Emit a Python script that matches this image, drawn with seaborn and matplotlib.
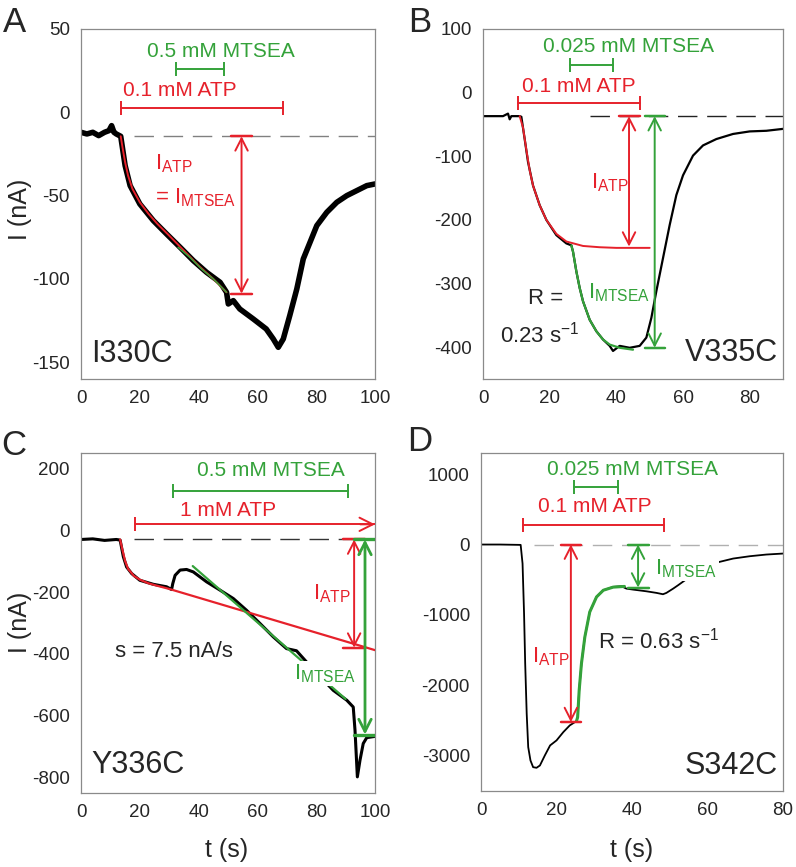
import numpy as np
import pandas as pd
import matplotlib
matplotlib.use("Agg")
import matplotlib.pyplot as plt
import seaborn as sns

sns.set_style("white")
plt.rcParams['font.family'] = ['Liberation Sans', 'DejaVu Sans']
plt.rcParams['mathtext.fontset'] = 'custom'
plt.rcParams['mathtext.rm'] = 'Liberation Sans'
plt.rcParams['mathtext.it'] = 'Liberation Sans'
plt.rcParams['axes.unicode_minus'] = False

RED = "#e6212b"
GREEN = "#34a23a"

# ---- panel A : I330C ----
a_t = [0, 2, 4, 6, 8, 9.5, 10.4, 11.2, 12, 13.5, 15, 16.7, 20, 24.6, 29.1, 33.7, 38.2, 42.7, 45, 47.3,
       49.5, 50.1, 51.8, 54, 58.6, 63, 65.4, 67.1, 68.8, 71, 73.4, 75.6, 77.9, 80.2, 83.6, 87, 90.4, 93.8, 97.2, 100]
a_i = [-12, -13, -12, -14, -12, -11, -8, -12, -13, -14.4, -32, -44, -55, -65, -73, -81, -89, -96, -99, -102,
       -108, -115, -113, -118, -124, -130, -136, -141, -136, -122, -106, -88, -78, -68, -60, -54, -50, -47, -44, -43]
a_red_t = [13.5, 14.2, 15, 16, 17.5, 20, 23, 26, 30, 35, 40, 45, 49.5]
a_red_i = [-14.4, -22, -30, -38, -46, -54, -61, -67, -74, -83, -92, -100, -108]
a_green_t = [33, 37, 41, 45, 49.5]
a_green_i = [-81, -87, -94, -100, -108]

# ---- panel B : V335C ----
b_t = [0, 3, 6, 7.5, 8, 8.5, 11, 11.5, 12.5, 13.5, 15, 17, 19, 22, 25, 26.5, 27, 28, 29, 30, 32, 34, 36, 38,
       39, 41, 44, 47, 49, 50.5, 52, 54, 56, 58, 60, 63, 66, 70, 75, 80, 85, 90]
b_i = [-37, -37, -37, -33, -42, -37, -37, -38, -73, -109, -146, -177, -200, -224, -237, -240, -250, -281, -307,
       -328, -357, -375, -388, -398, -406, -398, -401, -398, -385, -354, -312, -260, -208, -161, -130, -99, -83,
       -73, -65, -61, -60, -57]
b_red_t = [11, 12, 13, 14, 15, 17, 19, 22, 25, 30, 35, 40, 50]
b_red_i = [-37, -55, -90, -122, -146, -177, -200, -222, -234, -241, -243, -244, -244]
b_green_t = [26.5, 27, 28, 29, 30, 32, 34, 36, 38, 41, 45]
b_green_i = [-240, -250, -281, -307, -328, -357, -375, -388, -396, -401, -404]

# ---- panel C : Y336C ----
c_t = [0, 4, 8, 12, 13.3, 14.4, 15.5, 17.2, 20, 24.6, 29.1, 30.8, 31.2, 32, 33.7, 35.9, 38.2, 42.7, 47.3,
       51.8, 56.3, 60.9, 65.4, 69.9, 73.3, 78, 82, 85.8, 90.4, 92.6, 93.2, 94, 94.9, 96, 97.2, 100]
c_i = [-30, -28, -33, -30, -32, -86, -119, -140, -162, -175, -183, -192, -173, -146, -129, -127, -135, -167,
       -194, -221, -259, -302, -345, -383, -390, -440, -480, -518, -550, -572, -647, -798, -744, -690, -671, -667]
c_red_t = [13.3, 14, 15, 16, 18, 20, 23, 26, 30, 100]
c_red_i = [-30, -60, -100, -125, -148, -160, -172, -180, -190, -388]
c_green_t = [38, 90]
c_green_i = [-116, -546]

# ---- panel D : S342C ----
d_t = [0, 5, 10.5, 11, 11.4, 11.7, 12.1, 12.5, 13.1, 13.8, 14.7, 15.6, 16.9, 18.3, 20, 21.8, 23.5, 25.3,
       25.6, 26, 26.6, 27.5, 28.8, 30.6, 32.4, 35, 37.2, 38.5, 40.3, 43.8, 46.5, 48.2, 49.1, 50.9, 52.2,
       55, 58, 61.5, 63.2, 66.8, 71.2, 75.6, 80]
d_i = [0, 0, -5, -270, -981, -1692, -2403, -2877, -3067, -3162, -3171, -3138, -2996, -2853, -2782, -2664,
       -2569, -2507, -2450, -2071, -1692, -1313, -958, -744, -649, -602, -592, -626, -640, -664, -687, -706,
       -687, -626, -578, -470, -370, -270, -246, -199, -166, -142, -128]
d_green_t = [25.3, 25.6, 26, 26.6, 27.5, 28.8, 30.6, 32.4, 35, 38]
d_green_i = [-2507, -2450, -2071, -1692, -1313, -958, -744, -649, -605, -595]


def trace(ax, t, i, color, lw, z=2):
    sns.lineplot(x=t, y=i, ax=ax, color=color, lw=lw, estimator=None, sort=False, zorder=z)


def bracket(ax, x0, x1, y, color, arrow=False):
    ax.plot([x0, x1], [y, y], color=color, lw=1.4, zorder=4)
    ax.plot([x0], [y], marker='|', ms=10, mew=1.4, color=color, zorder=4)
    if arrow:
        ax.annotate('', xy=(x1, y), xytext=(x1 - 5, y),
                    arrowprops=dict(arrowstyle='->,head_length=0.6,head_width=0.3', color=color, lw=1.4,
                                    shrinkA=0, shrinkB=0, mutation_scale=16), zorder=4)
    else:
        ax.plot([x1], [y], marker='|', ms=10, mew=1.4, color=color, zorder=4)


def span(ax, x, y0, y1, cap0, cap1, color, lw=1.4):
    ax.annotate('', xy=(x, y1), xytext=(x, y0),
                arrowprops=dict(arrowstyle='<->,head_length=0.55,head_width=0.28', color=color, lw=lw,
                                shrinkA=0, shrinkB=0, mutation_scale=16), zorder=4)
    if cap0:
        ax.plot(cap0, [y0, y0], color=color, lw=lw + 0.4, zorder=4)
    if cap1:
        ax.plot(cap1, [y1, y1], color=color, lw=lw + 0.4, zorder=4)


def baseline(ax, x0, x1, y, color):
    ax.plot([x0, x1], [y, y], color=color, lw=1.0, ls=(0, (14, 7)), zorder=1)


def style(ax, xlim, ylim, xt, yt):
    ax.set_xlim(*xlim)
    ax.set_ylim(*ylim)
    ax.set_xticks(xt)
    ax.set_yticks(yt)
    ax.set_xlabel('')
    ax.set_ylabel('')
    for s in ax.spines.values():
        s.set_color('#8a8a8a')
        s.set_linewidth(0.9)
    ax.tick_params(direction='out', length=4, width=0.9, color='#8a8a8a', labelsize=13.5, pad=4)


fig = plt.figure(figsize=(7.96, 8.67), dpi=100)
axA = fig.add_axes([0.1018, 0.5629, 0.3693, 0.4037])
axB = fig.add_axes([0.6068, 0.5629, 0.3769, 0.4037])
axC = fig.add_axes([0.1018, 0.0854, 0.3693, 0.3922])
axD = fig.add_axes([0.6043, 0.0877, 0.3794, 0.3898])

FS = 15

# A
trace(axA, a_t, a_i, 'black', 4)
trace(axA, a_red_t, a_red_i, RED, 1.4, 3)
trace(axA, a_green_t, a_green_i, GREEN, 1.1, 3)
baseline(axA, 18, 100, -14.4, '#808080')
bracket(axA, 13.5, 68.6, 2.6, RED)
bracket(axA, 32.3, 48.6, 26, GREEN)
axA.text(14.4, 13, '0.1 mM ATP', color=RED, fontsize=FS, va='center')
axA.text(22.3, 36.6, '0.5 mM MTSEA', color=GREEN, fontsize=FS, va='center')
span(axA, 54.6, -14.4, -108.8, [51, 58.3], [51, 58.3], RED)
axA.text(25.2, -31, r'I$_{\mathrm{ATP}}$', color=RED, fontsize=FS + 1, va='center')
axA.text(25.2, -51, r'= I$_{\mathrm{MTSEA}}$', color=RED, fontsize=FS + 1, va='center')
axA.text(3.6, -145, 'I330C', fontsize=22, va='center')
style(axA, (0, 100), (-160, 50), range(0, 101, 20), [-150, -100, -50, 0, 50])

# B
trace(axB, b_t, b_i, 'black', 1.6)
trace(axB, b_red_t, b_red_i, RED, 1.4, 3)
trace(axB, b_green_t, b_green_i, GREEN, 1.6, 3)
baseline(axB, 32, 90, -37, '#222222')
bracket(axB, 10.5, 47.2, -17, RED)
bracket(axB, 26, 39, 44, GREEN)
axB.text(11.8, 9, '0.1 mM ATP', color=RED, fontsize=FS, va='center')
axB.text(18, 73, '0.025 mM MTSEA', color=GREEN, fontsize=FS, va='center')
span(axB, 43.8, -37, -242, [40.8, 47.2], None, RED)
span(axB, 51.5, -37, -401, [48.5, 54.5], [48.5, 54.5], GREEN)
axB.text(32.3, -142, r'I$_{\mathrm{ATP}}$', color=RED, fontsize=FS + 1, va='center')
axB.text(31.6, -315, r'I$_{\mathrm{MTSEA}}$', color=GREEN, fontsize=FS + 1, va='center')
axB.text(13.5, -323, 'R =', fontsize=FS + 1, va='center')
axB.text(5, -380, r'0.23 s$^{-1}$', fontsize=FS + 1, va='center')
axB.text(88.5, -409, 'V335C', fontsize=22, va='center', ha='right')
style(axB, (0, 90), (-450, 100), range(0, 81, 20), [-400, -300, -200, -100, 0, 100])

# C
trace(axC, c_t, c_i, 'black', 2.2)
trace(axC, c_red_t, c_red_i, RED, 1.6, 3)
trace(axC, c_green_t, c_green_i, GREEN, 1.6, 3)
baseline(axC, 18, 100, -30, '#333333')
bracket(axC, 18.4, 100, 19, RED, arrow=True)
bracket(axC, 31.2, 90.9, 127, GREEN)
axC.text(33.7, 65, '1 mM ATP', color=RED, fontsize=FS, va='center')
axC.text(39.6, 194, '0.5 mM MTSEA', color=GREEN, fontsize=FS, va='center')
span(axC, 92.9, -30, -380, [89.2, 96.6], [89.2, 96.6], RED)
span(axC, 96.6, -30, -661, [92.9, 100], [92.9, 100], GREEN, lw=2)
axC.text(79, -205, r'I$_{\mathrm{ATP}}$', color=RED, fontsize=FS + 1, va='center')
axC.text(72.5, -464, r'I$_{\mathrm{MTSEA}}$', color=GREEN, fontsize=FS + 1, va='center',
         bbox=dict(fc='white', ec='none', pad=1), zorder=5)
axC.text(11.6, -394, 's = 7.5 nA/s', fontsize=FS + 1, va='center')
axC.text(3.6, -760, 'Y336C', fontsize=22, va='center')
style(axC, (0, 100), (-850, 250), range(0, 101, 20), [-800, -600, -400, -200, 0, 200])

# D
trace(axD, d_t, d_i, 'black', 1.3)
trace(axD, d_green_t, d_green_i, GREEN, 2.2, 3)
baseline(axD, 14, 80, 0, '#b0b0b0')
bracket(axD, 11, 48.4, 275, RED)
bracket(axD, 24.7, 36.2, 820, GREEN)
axD.text(15, 545, '0.1 mM ATP', color=RED, fontsize=FS, va='center')
axD.text(17.4, 1066, '0.025 mM MTSEA', color=GREEN, fontsize=FS, va='center')
span(axD, 23.8, 0, -2522, [21.2, 26.6], [21.2, 26.6], RED)
span(axD, 41.6, 0, -611, [39, 44.5], [39, 44.5], GREEN)
axD.text(13.5, -1597, r'I$_{\mathrm{ATP}}$', color=RED, fontsize=FS + 1, va='center')
axD.text(46.2, -341, r'I$_{\mathrm{MTSEA}}$', color=GREEN, fontsize=FS + 1, va='center',
         bbox=dict(fc='white', ec='none', pad=1), zorder=5)
axD.text(31, -1360, r'R = 0.63 s$^{-1}$', fontsize=FS + 1, va='center')
axD.text(78.7, -3152, 'S342C', fontsize=22, va='center', ha='right')
style(axD, (0, 80), (-3500, 1300), range(0, 81, 20), [-3000, -2000, -1000, 0, 1000])

# labels
for x, y, s in [(0.0176, 0.9746, 'A'), (0.5276, 0.9746, 'B'), (0.0176, 0.4867, 'C'), (0.5276, 0.4913, 'D')]:
    fig.text(x, y, s, fontsize=25, ha='center', va='center')
fig.text(0.025, 0.759, 'I (nA)', rotation=90, fontsize=18, ha='center', va='center')
fig.text(0.025, 0.2826, 'I (nA)', rotation=90, fontsize=18, ha='center', va='center')
fig.text(0.285, 0.0196, 't (s)', fontsize=18, ha='center', va='center')
fig.text(0.794, 0.0196, 't (s)', fontsize=18, ha='center', va='center')

fig.savefig('out.png', dpi=100)
